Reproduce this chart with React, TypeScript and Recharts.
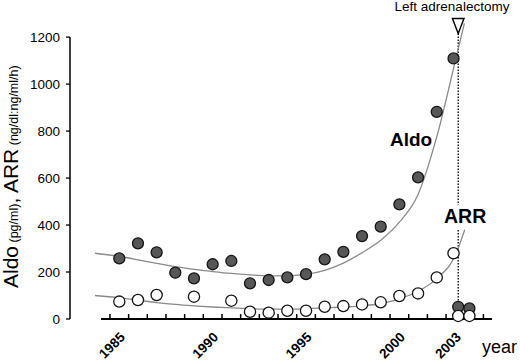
import React from 'react';
import {
  ComposedChart,
  Customized,
  Line,
  ReferenceDot,
  ReferenceLine,
  Scatter,
  XAxis,
  YAxis,
} from 'recharts';

const FONT = '"Liberation Sans", Arial, Helvetica, sans-serif';

// measured values (year, pg/ml or ratio)
const ALDO_YEARS = [1985, 1986, 1987, 1988, 1989, 1990, 1991, 1992, 1993, 1994, 1995, 1996, 1997, 1998, 1999, 2000, 2001, 2002, 2002.9];
const ALDO_VALUES = [258, 322, 284, 197, 173, 233, 247, 152, 166, 177, 191, 254, 286, 353, 393, 488, 603, 882, 1109];

const ARR_YEARS = [1985, 1986, 1987, 1989, 1991, 1992, 1993, 1994, 1995, 1996, 1997, 1998, 1999, 2000, 2001, 2002, 2002.9];
const ARR_VALUES = [74, 81, 102, 95, 78, 31, 27, 35, 35, 52, 55, 62, 71, 98, 109, 177, 280];

// after left adrenalectomy
const POSTOP_YEARS = [2003.15, 2003.75];
const POSTOP_ALDO = [52, 45];
const POSTOP_ARR = [13, 13];

// fitted curves
const ALDO_FIT_YEARS = [1983.7, 1985, 1986, 1987, 1988, 1989, 1990, 1991, 1992, 1993, 1994, 1995, 1996, 1997, 1998, 1999, 2000, 2001, 2002, 2003, 2003.48];
const ALDO_FIT_VALUES = [280, 266, 252, 237, 223, 211, 202, 194, 188, 184, 184, 190, 207, 238, 282, 335, 412, 530, 775, 1100, 1258];

const ARR_FIT_YEARS = [1983.7, 1985, 1986, 1987, 1988, 1989, 1990, 1991, 1992, 1993, 1994, 1995, 1996, 1997, 1998, 1999, 2000, 2001, 2002, 2003, 2003.5];
const ARR_FIT_VALUES = [100, 90, 80, 70, 62, 56, 51, 47, 44, 42, 42, 44, 47, 51, 56, 66, 86, 118, 172, 272, 380];

const YEAR_LABELS = [1985, 1990, 1995, 2000, 2003];
const MINOR_TICKS = [1984.5, 1985.5, 1986.5, 1987.5, 1988.5, 1989.5, 1990.5, 1991.5, 1992.5, 1993.5, 1994.5, 1995.5, 1996.5, 1997.5, 1998.5, 1999.5, 2000.5, 2001.5, 2002.5, 2003.5, 2004.5];
const Y_TICKS = [0, 200, 400, 600, 800, 1000, 1200];

const SURGERY_YEAR = 2003.15;
const X_DOMAIN: [number, number] = [1982.36, 2004.96];
const X_LINE_START = 1984.02;
const Y_MAX = 1260; // room above 1200 for the curve end and the marker
const MINOR_TICK_LEN = 21; // y units, about 5px

const toPoints = (xs: number[], ys: number[]) => xs.map((x, i) => ({ x, y: ys[i] }));

const FilledDot = (p: any) => (
  <circle cx={p.cx} cy={p.cy} r={5.5} fill="#575757" stroke="#141414" strokeWidth={1.3} />
);
const OpenDot = (p: any) => (
  <circle cx={p.cx} cy={p.cy} r={5.6} fill="#fff" stroke="#141414" strokeWidth={1.3} />
);
const Triangle = (p: any) => (
  <polygon
    points={`${p.cx - 5.8},${p.cy - 7.5} ${p.cx + 5.8},${p.cy - 7.5} ${p.cx},${p.cy + 7.5}`}
    fill="#fff"
    stroke="#000"
    strokeWidth={1.4}
  />
);

const XTick = (props: any) => {
  const { x, y, payload } = props;
  const ax = x + 6.5;
  const ay = y + 19;
  return (
    <text
      x={ax}
      y={ay}
      transform={`rotate(-45 ${ax} ${ay})`}
      textAnchor="end"
      fontSize={13.5}
      fontWeight="bold"
      fontFamily={FONT}
      fill="#000"
    >
      {payload.value}
    </text>
  );
};

const Annotations = () => (
  <g fontFamily={FONT} fill="#000">
    <text x={452} y={11} fontSize={13.5} textAnchor="middle">Left adrenalectomy</text>
    <text x={390} y={146} fontSize={19} fontWeight="bold">Aldo</text>
    <text x={444} y={222.5} fontSize={19.5} fontWeight="bold">ARR</text>
    <text x={482} y={353} fontSize={18}>year</text>
    <text transform="translate(17.5,288) rotate(-90)" style={{ whiteSpace: 'pre' }}>
      <tspan fontSize={21}>Aldo</tspan>
      <tspan fontSize={12.5}> (pg/ml)</tspan>
      <tspan fontSize={21}>, ARR</tspan>
      <tspan fontSize={12.5}> (ng/dl:ng/ml/h)</tspan>
    </text>
  </g>
);

export default function App() {
  const aldo = toPoints(ALDO_YEARS, ALDO_VALUES);
  const arr = toPoints(ARR_YEARS, ARR_VALUES);
  const postAldo = toPoints(POSTOP_YEARS, POSTOP_ALDO);
  const postArr = toPoints(POSTOP_YEARS, POSTOP_ARR);
  const aldoFit = toPoints(ALDO_FIT_YEARS, ALDO_FIT_VALUES);
  const arrFit = toPoints(ARR_FIT_YEARS, ARR_FIT_VALUES);

  return (
    <div style={{ width: 520, height: 361, background: '#fff' }}>
      <style>{'body{margin:0}'}</style>
      <ComposedChart width={520} height={361} margin={{ top: 23, right: 28, bottom: 0, left: 0 }}>
        <XAxis
          dataKey="x"
          type="number"
          domain={X_DOMAIN}
          allowDataOverflow
          ticks={YEAR_LABELS}
          interval={0}
          axisLine={false}
          tickLine={false}
          tickSize={0}
          tickMargin={0}
          tick={<XTick />}
          height={42}
        />
        <YAxis
          dataKey="y"
          type="number"
          domain={[0, Y_MAX]}
          ticks={Y_TICKS}
          interval={0}
          width={70}
          axisLine={false}
          tickLine={{ stroke: '#000', strokeWidth: 1.3 }}
          tickSize={4}
          tickMargin={6}
          tick={{ fill: '#000', fontSize: 13.5, fontFamily: FONT }}
        />
        <ReferenceLine
          segment={[{ x: X_DOMAIN[0], y: 0 }, { x: X_DOMAIN[0], y: 1200 }]}
          stroke="#000"
          strokeWidth={1.5}
          ifOverflow="visible"
        />
        <ReferenceLine
          segment={[{ x: X_LINE_START, y: 0 }, { x: X_DOMAIN[1], y: 0 }]}
          stroke="#000"
          strokeWidth={2}
          ifOverflow="visible"
        />
        {MINOR_TICKS.map((t) => (
          <ReferenceLine
            key={t}
            segment={[{ x: t, y: 0 }, { x: t, y: MINOR_TICK_LEN }]}
            stroke="#000"
            strokeWidth={1.5}
            ifOverflow="visible"
          />
        ))}
        <ReferenceLine
          segment={[{ x: SURGERY_YEAR, y: 1215 }, { x: SURGERY_YEAR, y: 485 }]}
          stroke="#000"
          strokeWidth={1.3}
          strokeDasharray="1.5 1.5"
          ifOverflow="visible"
        />
        <ReferenceLine
          segment={[{ x: SURGERY_YEAR, y: 379 }, { x: SURGERY_YEAR, y: 68 }]}
          stroke="#000"
          strokeWidth={1.3}
          strokeDasharray="1.5 1.5"
          ifOverflow="visible"
        />
        <ReferenceDot x={SURGERY_YEAR} y={1247} ifOverflow="visible" shape={<Triangle />} />
        <Line data={aldoFit} dataKey="y" type="monotone" stroke="#8a8a8a" strokeWidth={1.3} dot={false} activeDot={false} isAnimationActive={false} />
        <Line data={arrFit} dataKey="y" type="monotone" stroke="#8a8a8a" strokeWidth={1.3} dot={false} activeDot={false} isAnimationActive={false} />
        <Scatter data={aldo} dataKey="y" shape={<FilledDot />} isAnimationActive={false} />
        <Scatter data={postAldo} dataKey="y" shape={<FilledDot />} isAnimationActive={false} />
        <Scatter data={arr} dataKey="y" shape={<OpenDot />} isAnimationActive={false} />
        <Scatter data={postArr} dataKey="y" shape={<OpenDot />} isAnimationActive={false} />
        <Customized component={<Annotations />} />
      </ComposedChart>
    </div>
  );
}
